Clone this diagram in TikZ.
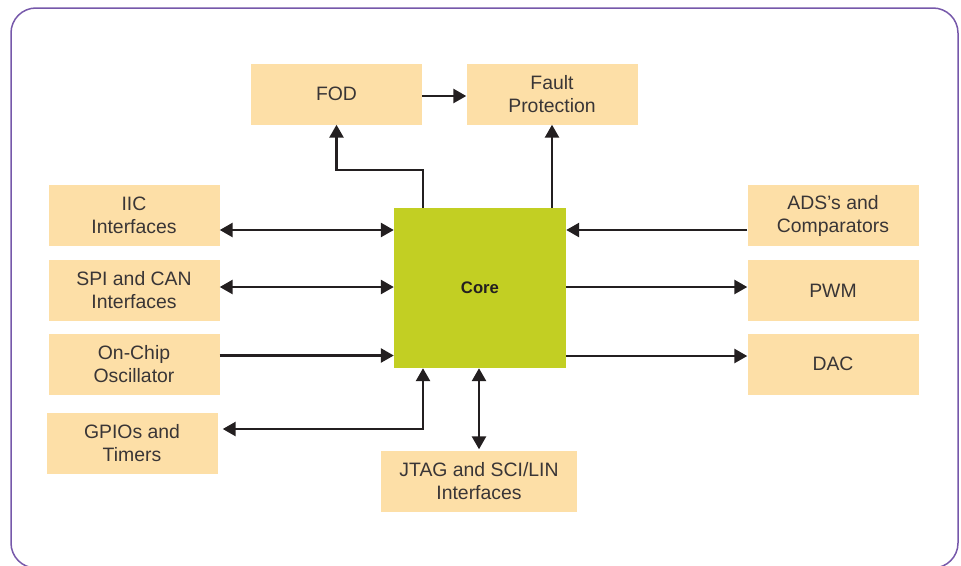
\documentclass[tikz,border=0pt]{standalone}
\usepackage{fontspec}
\setmainfont{Liberation Sans}
\usetikzlibrary{arrows.meta}
\definecolor{peach}{HTML}{FDDFA7}
\definecolor{lime}{HTML}{C2CF23}
\definecolor{ink}{HTML}{231F20}
\definecolor{rim}{HTML}{7658AA}
\tikzset{
  box/.style={fill=peach, minimum width=171pt, minimum height=61pt, inner sep=0pt,
    align=center, text=ink!90, font=\fontsize{19.4pt}{23pt}\selectfont},
  core/.style={fill=lime, minimum width=172pt, minimum height=160pt, inner sep=0pt,
    text=ink, font=\fontsize{16.7pt}{20pt}\selectfont\bfseries},
  link/.style={draw=ink, line width=2.6pt, arrows={-}, >={Triangle[length=13pt,width=14pt]}}
}
\begin{document}
\begin{tikzpicture}[x=1pt, y=-1pt]
      \useasboundingbox (0,0) rectangle (961,565);
      \draw[rim, line width=1.5pt, rounded corners=25pt] (11,8) rectangle (958,568);
      \node[core] (core) at (480,288) {Core};
      \node[box] (fod) at (336.5,94) {FOD};
      \node[box] (fault) at (552,94) {Fault\\Protection};
      \node[box] (iic) at (134,215.5) {IIC\\Interfaces};
      \node[box] (spi) at (134,290.5) {SPI and CAN\\Interfaces};
      \node[box] (osc) at (134,364.5) {On-Chip\\Oscillator};
      \node[box] (gpio) at (132,443) {GPIOs and\\Timers};
      \node[box] (ads) at (833,215.5) {ADS’s and\\Comparators};
      \node[box] (pwm) at (833,290.5) {PWM};
      \node[box] (dac) at (833,364) {DAC};
      \node[box, minimum width=196pt] (jtag) at (479,481) {JTAG and SCI/LIN\\Interfaces};
      \begin{scope}[link]
        \draw[->] ([yshift=-2pt]fod.east) to ([yshift=-2pt]fault.west);
        \draw[->] ([xshift=-57pt]core.north) -- ++(0,-38) -| (fod.south);
        \draw[->] (core.north -| fault.south) to (fault.south);
        \draw[<->] ([yshift=-14.5pt]iic.east) to ([yshift=-14.5pt]iic.east -| core.west);
        \draw[<->] ([yshift=3.5pt]spi.east) to ([yshift=3.5pt]spi.east -| core.west);
        \draw[->] ([yshift=9pt]osc.east) to ([yshift=9pt]osc.east -| core.west);
        \draw[<->] ([xshift=-57pt]core.south) |- ([yshift=14pt,xshift=5pt]gpio.east);
        \draw[<->] (core.south -| jtag.north) to ([yshift=1pt]jtag.north);
        \draw[->] ([yshift=-14.5pt]ads.west) to ([yshift=-14.5pt]ads.west -| core.east);
        \draw[->] ([yshift=3.5pt]pwm.west -| core.east) to ([yshift=3.5pt]pwm.west);
        \draw[->] ([yshift=8pt]dac.west -| core.east) to ([yshift=8pt]dac.west);
      \end{scope}
    \end{tikzpicture}
\end{document}
